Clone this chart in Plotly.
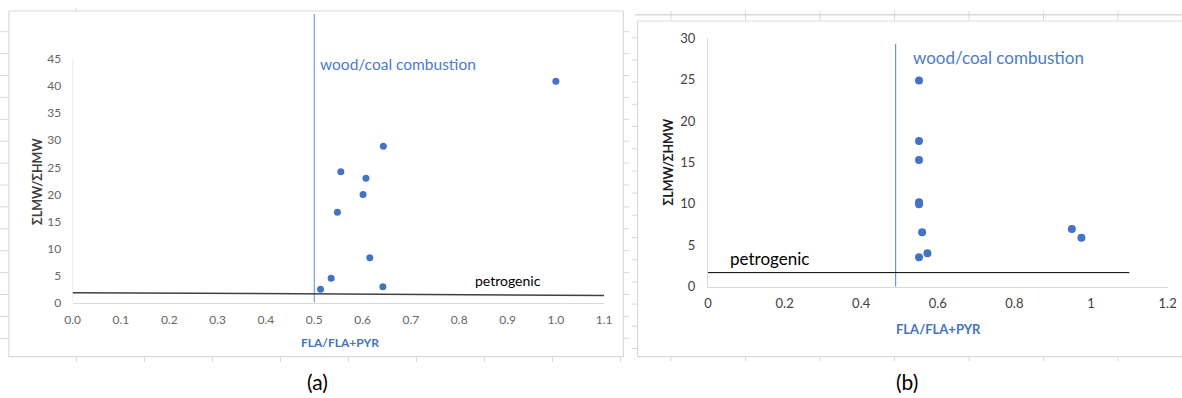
import plotly.graph_objects as go

# ---------------- data ----------------
# panel (a)
a_x = [1.000, 0.643, 0.555, 0.607, 0.601, 0.548, 0.615, 0.535, 0.513, 0.642]
a_y = [40.9, 28.9, 24.2, 23.0, 20.0, 16.7, 8.3, 4.5, 2.5, 2.95]
a_xticks = [0.0, 0.1, 0.2, 0.3, 0.4, 0.5, 0.6, 0.7, 0.8, 0.9, 1.0, 1.1]
a_yticks = [0, 5, 10, 15, 20, 25, 30, 35, 40, 45]
a_petro_x = [0.0, 1.1]
a_petro_y = [1.85, 1.35]
a_wood_x = [0.5, 0.5]
a_wood_y = [0.0, 53.3]

# panel (b)
b_x = [0.551, 0.551, 0.551, 0.551, 0.551, 0.559, 0.551, 0.573, 0.950, 0.975]
b_y = [24.9, 17.6, 15.3, 10.2, 9.95, 6.57, 3.55, 4.03, 6.97, 5.92]
b_xticks = [0, 0.2, 0.4, 0.6, 0.8, 1.0, 1.2]
b_xticklabels = ["0", "0.2", "0.4", "0.6", "0.8", "1", "1.2"]
b_yticks = [0, 5, 10, 15, 20, 25, 30]
b_petro_x = [0.0, 1.1]
b_petro_y = [1.7, 1.7]
b_wood_x = [0.49, 0.49]
b_wood_y = [0.0, 29.3]

x_title = "FLA/FLA+PYR"
y_title = "ΣLMW/ΣHMW"
src_wood = "wood/coal combustion"
src_petro = "petrogenic"

# ---------------- layout helpers ----------------
W, H = 1182, 398
def px(x):
    return x / W
def py(y):
    return 1 - y / H

BLUE = "#4472C4"
FONT = "Lato, 'Open Sans', sans-serif"
FRAME = "#D9D9D9"

fig = go.Figure()

# ---- panel (a) traces ----
fig.add_trace(go.Scatter(x=a_wood_x, y=a_wood_y, mode="lines",
                         line=dict(color="#5B8BD0", width=1),
                         xaxis="x", yaxis="y", showlegend=False, hoverinfo="skip"))
fig.add_trace(go.Scatter(x=a_petro_x, y=a_petro_y, mode="lines",
                         line=dict(color="#404040", width=1.5),
                         xaxis="x", yaxis="y", showlegend=False, hoverinfo="skip"))
fig.add_trace(go.Scatter(x=a_x, y=a_y, mode="markers",
                         marker=dict(color=BLUE, size=7),
                         xaxis="x", yaxis="y", showlegend=False))

# ---- panel (b) traces ----
fig.add_trace(go.Scatter(x=b_wood_x, y=b_wood_y, mode="lines",
                         line=dict(color="#4F7FD0", width=1),
                         xaxis="x2", yaxis="y2", showlegend=False, hoverinfo="skip"))
fig.add_trace(go.Scatter(x=b_petro_x, y=b_petro_y, mode="lines",
                         line=dict(color="#000000", width=1),
                         xaxis="x2", yaxis="y2", showlegend=False, hoverinfo="skip"))
fig.add_trace(go.Scatter(x=b_x, y=b_y, mode="markers",
                         marker=dict(color=BLUE, size=8),
                         xaxis="x2", yaxis="y2", showlegend=False))

a_ymax = a_wood_y[1]

shapes = []
# y-axis line of (a) only up to 45
shapes.append(dict(type="line", xref="x", yref="y", x0=0, x1=0, y0=0, y1=a_yticks[-1],
                   line=dict(color=FRAME, width=1), layer="below"))

# chart frames
shapes.append(dict(type="rect", xref="paper", yref="paper",
                   x0=px(9), x1=px(623.3), y0=py(356.7), y1=py(11),
                   line=dict(color=FRAME, width=1.2), layer="below"))
shapes.append(dict(type="rect", xref="paper", yref="paper",
                   x0=px(637.5), x1=px(1190), y0=py(356.7), y1=py(21),
                   line=dict(color=FRAME, width=1.2), layer="below"))
# spreadsheet line above (b)
shapes.append(dict(type="line", xref="paper", yref="paper",
                   x0=px(635), x1=px(1182), y0=py(14.7), y1=py(14.7),
                   line=dict(color=FRAME, width=1.5), layer="below"))
# spreadsheet row ticks
for k in range(16):
    yy = 31.7 + 21.9 * k
    if yy < 356:
        shapes.append(dict(type="line", xref="paper", yref="paper",
                           x0=px(0), x1=px(8), y0=py(yy), y1=py(yy),
                           line=dict(color=FRAME, width=1), layer="below"))
        shapes.append(dict(type="line", xref="paper", yref="paper",
                           x0=px(624), x1=px(629), y0=py(yy), y1=py(yy),
                           line=dict(color=FRAME, width=1), layer="below"))
for k in range(15):
    yy = 37.7 + 22.2 * k
    if yy < 356:
        shapes.append(dict(type="line", xref="paper", yref="paper",
                           x0=px(632), x1=px(637), y0=py(yy), y1=py(yy),
                           line=dict(color=FRAME, width=1), layer="below"))
# spreadsheet column ticks
for k in range(9):
    xx = 76.5 + 68 * k
    shapes.append(dict(type="line", xref="paper", yref="paper",
                       x0=px(xx), x1=px(xx), y0=py(357), y1=py(362),
                       line=dict(color=FRAME, width=1), layer="below"))
shapes.append(dict(type="line", xref="paper", yref="paper",
                   x0=px(76), x1=px(76), y0=py(8), y1=py(11),
                   line=dict(color=FRAME, width=1), layer="below"))
for k in range(7):
    xx = 671 + 74.5 * k
    shapes.append(dict(type="line", xref="paper", yref="paper",
                       x0=px(xx), x1=px(xx), y0=py(11), y1=py(21),
                       line=dict(color=FRAME, width=1), layer="below"))
    shapes.append(dict(type="line", xref="paper", yref="paper",
                       x0=px(xx), x1=px(xx), y0=py(357), y1=py(361),
                       line=dict(color=FRAME, width=1), layer="below"))

annotations = [
    # axis titles (a)
    dict(text=x_title, xref="paper", yref="paper", x=px(339.5), y=py(342.7),
         showarrow=False, font=dict(family=FONT, size=12, color=BLUE, weight="bold"),
         xanchor="center", yanchor="middle"),
    dict(text=y_title, xref="paper", yref="paper", x=px(37), y=py(182),
         showarrow=False, textangle=-90,
         font=dict(family=FONT, size=12.5, color="#404040", weight="bold"),
         xanchor="center", yanchor="middle"),
    # axis titles (b)
    dict(text=x_title, xref="paper", yref="paper", x=px(938), y=py(329),
         showarrow=False, font=dict(family=FONT, size=13, color=BLUE, weight="bold"),
         xanchor="center", yanchor="middle"),
    dict(text=y_title, xref="paper", yref="paper", x=px(668), y=py(162.5),
         showarrow=False, textangle=-90,
         font=dict(family=FONT, size=12.5, color="#1a1a1a", weight="bold"),
         xanchor="center", yanchor="middle"),
    # source labels (a)
    dict(text=src_wood, xref="x", yref="y", x=0.508, y=44.1, showarrow=False,
         font=dict(family=FONT, size=15.5, color="#4A7CC9"), xanchor="left", yanchor="middle"),
    dict(text=src_petro, xref="x", yref="y", x=0.829, y=4.06, showarrow=False,
         font=dict(family=FONT, size=14, color="#000000"), xanchor="left", yanchor="middle"),
    # source labels (b)
    dict(text=src_wood, xref="x2", yref="y2", x=0.530, y=27.7, showarrow=False,
         font=dict(family=FONT, size=17, color="#4A7CC9"), xanchor="left", yanchor="middle"),
    dict(text=src_petro, xref="x2", yref="y2", x=0.0514, y=3.43, showarrow=False,
         font=dict(family=FONT, size=17, color="#000000"), xanchor="left", yanchor="middle"),
    # panel captions
    dict(text="(a)", xref="paper", yref="paper", x=px(317), y=py(381), showarrow=False,
         font=dict(family=FONT, size=21, color="#000000"), xanchor="center", yanchor="middle"),
    dict(text="(b)", xref="paper", yref="paper", x=px(907), y=py(381), showarrow=False,
         font=dict(family=FONT, size=21, color="#000000"), xanchor="center", yanchor="middle"),
]

fig.update_layout(
    width=W, height=H,
    margin=dict(l=0, r=0, t=0, b=0, pad=0, autoexpand=False),
    paper_bgcolor="white", plot_bgcolor="white",
    showlegend=False,
    shapes=shapes,
    annotations=annotations,
    xaxis=dict(domain=[px(72.6), px(604.2)], range=[0, 1.1], anchor="y", automargin=False,
               tickvals=a_xticks, ticktext=[f"{v:.1f}" for v in a_xticks],
               showgrid=False, zeroline=False, showline=True, linecolor=FRAME, linewidth=1,
               ticks="outside", ticklen=6, tickcolor="rgba(0,0,0,0)",
               tickfont=dict(family=FONT, size=12, color="#666666")),
    yaxis=dict(domain=[py(302.7), py(302.7 - a_ymax * 5.415)], range=[0, a_ymax], anchor="x",
               automargin=False, tickvals=a_yticks,
               showgrid=False, zeroline=False, showline=False,
               ticks="outside", ticklen=8, tickcolor="rgba(0,0,0,0)",
               tickfont=dict(family=FONT, size=12, color="#666666")),
    xaxis2=dict(domain=[px(708), px(1167.6)], range=[0, 1.2], anchor="y2", automargin=False,
                tickvals=b_xticks, ticktext=b_xticklabels,
                showgrid=False, zeroline=False, showline=True, linecolor=FRAME, linewidth=1,
                ticks="outside", ticklen=5, tickcolor="rgba(0,0,0,0)",
                tickfont=dict(family=FONT, size=13, color="#404040")),
    yaxis2=dict(domain=[py(286.7), py(38.3)], range=[0, 30], anchor="x2", automargin=False,
                tickvals=b_yticks,
                showgrid=False, zeroline=False, showline=True, linecolor=FRAME, linewidth=1,
                ticks="outside", ticklen=9, tickcolor="rgba(0,0,0,0)",
                tickfont=dict(family=FONT, size=13, color="#404040")),
)

fig.write_html("out.html",
               config={"displayModeBar": False},
               post_script="document.body.style.margin='0px';"
                           "document.body.style.overflow='hidden';")
